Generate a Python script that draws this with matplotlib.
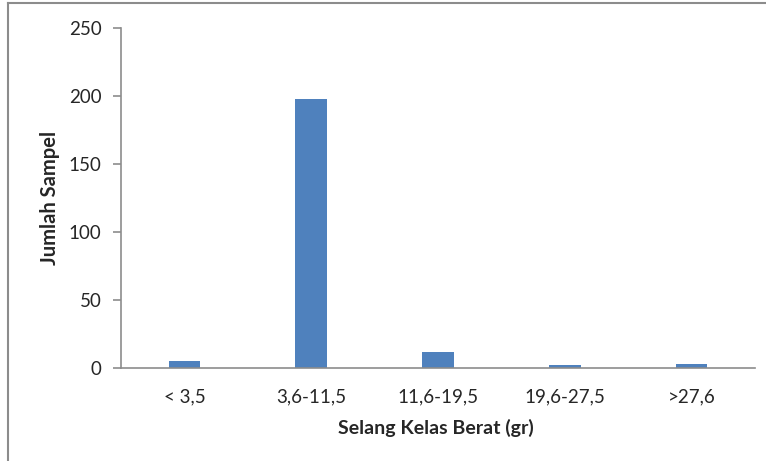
import matplotlib
matplotlib.use("Agg")
import matplotlib.pyplot as plt
from matplotlib.lines import Line2D

categories = ["< 3,5", "3,6-11,5", "11,6-19,5", "19,6-27,5", ">27,6"]
values = [5, 198, 12, 2, 3]
yticks = [0, 50, 100, 150, 200, 250]

plt.rcParams['font.family'] = ['Lato', 'DejaVu Sans']

W, H = 766, 461
fig = plt.figure(figsize=(W/100, H/100), dpi=100)
x0, x1, ytop, ybot = 121, 755, 28, 368
ax = fig.add_axes([x0/W, 1-ybot/H, (x1-x0)/W, (ybot-ytop)/H])

x = list(range(len(categories)))
ax.bar(x, values, width=0.25, color="#4F81BD", zorder=2)
ax.set_xlim(-0.5, len(categories)-0.5)
ax.set_ylim(0, 250)
ax.set_yticks(yticks)
ax.set_xticks(x)
ax.set_xticklabels(categories)

for s in ["top", "right"]:
    ax.spines[s].set_visible(False)
for s in ["left", "bottom"]:
    ax.spines[s].set_color("#8C8C8C")
    ax.spines[s].set_linewidth(1.2)
ax.tick_params(axis="y", length=6, width=1.2, color="#8C8C8C", labelsize=13.5, labelcolor="#262626", pad=8)
ax.tick_params(axis="x", length=0, labelsize=13.5, labelcolor="#262626", pad=15)

ax.set_xlabel("Selang Kelas Berat (gr)", fontsize=14, fontweight="bold", color="#262626", va="center")
ax.set_ylabel("Jumlah Sampel", fontsize=14.5, fontweight="bold", color="#262626", va="center")
ax.xaxis.set_label_coords(0.5 * ((436 - x0) / (x1 - x0)) * 2, -(428 - ybot) / (ybot - ytop))
ax.yaxis.set_label_coords(-(x0 - 50) / (x1 - x0), 0.5)

# outer frame (top and left visible)
fig.add_artist(Line2D([8/W, 8/W], [0, 1-3.5/H], transform=fig.transFigure, color="#8C8C8C", lw=1.5))
fig.add_artist(Line2D([8/W, 1], [1-3.5/H, 1-3.5/H], transform=fig.transFigure, color="#8C8C8C", lw=1.5))

fig.savefig("out.png", dpi=100)
